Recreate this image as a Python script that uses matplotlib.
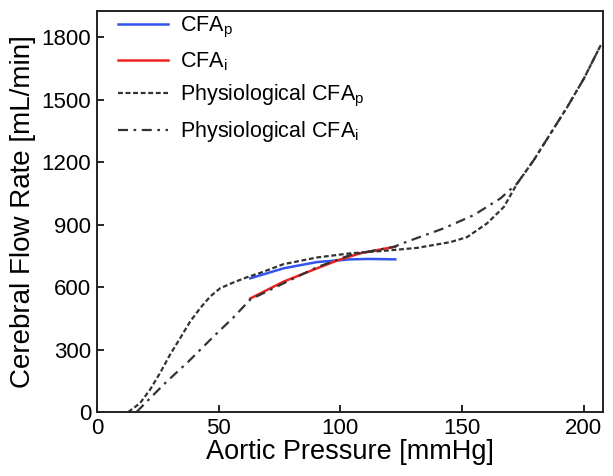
import matplotlib
matplotlib.use("Agg")
import matplotlib.pyplot as plt

plt.rcParams['font.family'] = ['Liberation Sans', 'DejaVu Sans']
plt.rcParams['mathtext.fontset'] = 'custom'
plt.rcParams['mathtext.rm'] = 'Liberation Sans'
plt.rcParams['mathtext.it'] = 'Liberation Sans:italic'

# Physiological CFAp (short dashes)
phys_p_x = [12.9, 17.7, 21.8, 25.9, 30, 34.2, 38.3, 42.4, 46.5, 50.6, 56.1, 61.6, 67.1,
            76.7, 90.4, 104.1, 117.8, 131.5, 145.3, 152.1, 160.3, 167.2, 172.7, 179.5,
            186.4, 193.3, 200.1, 207]
phys_p_y = [0, 42, 106, 186, 274, 354, 434, 498, 554, 594, 622, 647, 668,
            710, 742, 762, 774, 788, 816, 840, 906, 985, 1098, 1210,
            1338, 1466, 1602, 1762]

# Physiological CFAi (dash-dot)
phys_i_x = [16.3, 23.9, 28.7, 37.6, 47.9, 56.1, 63, 76.7, 90.4, 104.1, 122, 127.4,
            142.5, 154.9, 165.8, 172.7, 179.5, 186.4, 193.3, 200.1, 207]
phys_i_y = [0, 90, 146, 242, 362, 454, 540, 618, 695, 754, 793, 818,
            882, 946, 1026, 1098, 1210, 1338, 1466, 1602, 1762]

# CFAp (blue)
cfa_p_x = [63, 76.7, 90.4, 104.1, 112, 122.6]
cfa_p_y = [642, 690, 720, 733, 735, 733]

# CFAi (red)
cfa_i_x = [63, 76.7, 90.4, 99.3, 108.2, 122.6]
cfa_i_y = [545, 626, 690, 730, 762, 794]

x_ticks = [0, 50, 100, 150, 200]
y_ticks = [0, 300, 600, 900, 1200, 1500, 1800]

fig = plt.figure(figsize=(6.13, 4.76), dpi=100)
ax = fig.add_axes([0.158, 0.1345, 0.826, 0.842])

ax.plot(cfa_p_x, cfa_p_y, color='#3355ee', lw=1.8, label=r'CFA$_\mathrm{p}$')
ax.plot(cfa_i_x, cfa_i_y, color='#ee2222', lw=1.8, label=r'CFA$_\mathrm{i}$')
ax.plot(phys_p_x, phys_p_y, color='#333333', lw=1.6, dashes=(2.2, 1.2),
        label=r'Physiological CFA$_\mathrm{p}$')
ax.plot(phys_i_x, phys_i_y, color='#333333', lw=1.6, dashes=(4.5, 2.5, 1.2, 2.5),
        label=r'Physiological CFA$_\mathrm{i}$')

ax.set_xlim(0, 208)
ax.set_ylim(0, 1925)
ax.set_xticks(x_ticks)
ax.set_yticks(y_ticks)
ax.tick_params(direction='in', labelsize=16, length=5, width=1.2, pad=4)
for s in ax.spines.values():
    s.set_linewidth(1.4)
    s.set_color('#222222')
ax.set_xlabel('Aortic Pressure [mmHg]', fontsize=19.5, labelpad=0)
ax.set_ylabel('Cerebral Flow Rate [mL/min]', fontsize=20, labelpad=4)

ax.legend(loc='upper left', bbox_to_anchor=(0.025, 1.012), frameon=False, fontsize=15.5,
          handlelength=2.3, borderaxespad=0.0, labelspacing=0.47, handletextpad=0.57)

fig.savefig('out.png', dpi=100)
